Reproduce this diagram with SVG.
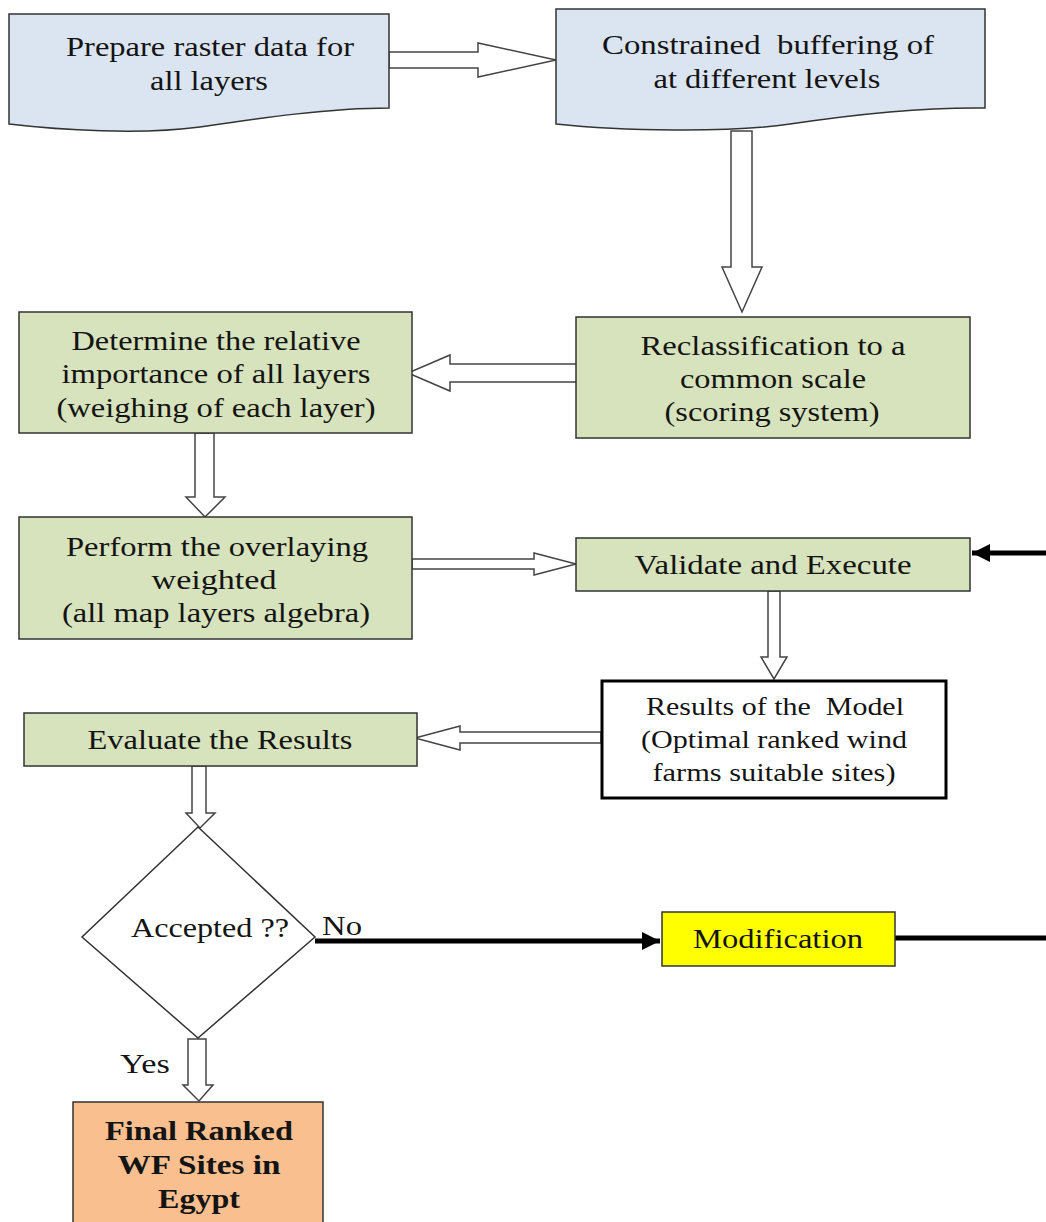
<svg xmlns="http://www.w3.org/2000/svg" width="1046" height="1222" viewBox="0 0 1046 1222">
<style>
  text { font-family: "Liberation Serif", "Times New Roman", serif; font-size: 28px; fill: #141414; text-anchor: middle; }
  .small { font-size: 26px; }
  .bold { font-weight: bold; }
  .blue { fill: #DBE5F1; stroke: #333; stroke-width: 1.5; }
  .green { fill: #D7E3BC; stroke: #333; stroke-width: 1.5; }
  .hollow { fill: #fff; stroke: #444; stroke-width: 1.5; stroke-linejoin: miter; }
  .thick { stroke: #000; stroke-width: 5; fill: none; }
</style>
<defs>
  <marker id="solid" viewBox="0 0 10 10" refX="10" refY="5" markerWidth="3.6" markerHeight="3.6" markerUnits="strokeWidth" orient="auto">
    <path d="M0,0 L10,5 L0,10 Z" fill="#000"/>
  </marker>
</defs>
<rect width="1046" height="1222" fill="#fff"/>

<g id="connectors">
  <polygon class="hollow" points="389,52 478,52 478,43 556,60 478,77 478,68 389,68"/>
  <polygon class="hollow" points="731,131 752,131 752,267 762,267 742,312 722,267 731,267"/>
  <polygon class="hollow" points="580,364 450,364 450,355 408,373 450,391 450,382 580,382"/>
  <polygon class="hollow" points="195,433 214,433 214,497 225,497 205,517 186,497 195,497"/>
  <polygon class="hollow" points="412,559 534,559 534,553 576,564 534,575 534,569 412,569"/>
  <polygon class="hollow" points="768,591 780,591 780,657 787,657 774,679 761,657 768,657"/>
  <polygon class="hollow" points="601,732 460,732 460,726 415,738 460,750 460,743 601,743"/>
  <polygon class="hollow" points="192,766 206,766 206,813 215,813 200,828 186,813 192,813"/>
  <polygon class="hollow" points="188,1039 206,1039 206,1085 213,1085 199,1101 183,1085 188,1085"/>
  <line class="thick" x1="315" y1="941" x2="660" y2="941" marker-end="url(#solid)"/>
  <line class="thick" x1="895" y1="938" x2="1046" y2="938"/>
  <line class="thick" x1="1046" y1="553" x2="972" y2="553" marker-end="url(#solid)"/>
  <text x="342" y="935" textLength="40" lengthAdjust="spacingAndGlyphs">No</text>
  <text x="145" y="1073" textLength="50" lengthAdjust="spacingAndGlyphs">Yes</text>
</g>

<g id="prepare">
  <path class="blue" d="M9,14 H389 V108 C330,108 260,118 200,127 C140,135 60,130 9,124 Z"/>
  <text x="210" y="56" textLength="288" lengthAdjust="spacingAndGlyphs">Prepare raster data for</text>
  <text x="209" y="90" textLength="118" lengthAdjust="spacingAndGlyphs">all layers</text>
</g>

<g id="buffering">
  <path class="blue" d="M556,9 H985 V108 C920,107 850,115 790,124 C730,133 620,131 556,124 Z"/>
  <text x="768" y="54" textLength="332" lengthAdjust="spacingAndGlyphs" xml:space="preserve">Constrained  buffering of</text>
  <text x="767" y="88" textLength="227" lengthAdjust="spacingAndGlyphs">at different levels</text>
</g>

<g id="reclassification">
  <rect class="green" x="576" y="317" width="394" height="121"/>
  <text x="773" y="355" textLength="265" lengthAdjust="spacingAndGlyphs">Reclassification to a</text>
  <text x="773" y="388" textLength="186" lengthAdjust="spacingAndGlyphs">common scale</text>
  <text x="772" y="421" textLength="215" lengthAdjust="spacingAndGlyphs">(scoring system)</text>
</g>

<g id="determine">
  <rect class="green" x="19" y="312" width="393" height="121"/>
  <text x="216" y="350" textLength="289" lengthAdjust="spacingAndGlyphs">Determine the relative</text>
  <text x="216" y="383" textLength="309" lengthAdjust="spacingAndGlyphs">importance of all layers</text>
  <text x="216" y="417" textLength="319" lengthAdjust="spacingAndGlyphs">(weighing of each layer)</text>
</g>

<g id="perform">
  <rect class="green" x="19" y="517" width="393" height="122"/>
  <text x="217" y="556" textLength="302" lengthAdjust="spacingAndGlyphs">Perform the overlaying</text>
  <text x="214" y="589" textLength="125" lengthAdjust="spacingAndGlyphs">weighted</text>
  <text x="216" y="622" textLength="308" lengthAdjust="spacingAndGlyphs">(all map layers algebra)</text>
</g>

<g id="validate">
  <rect class="green" x="576" y="538" width="394" height="53"/>
  <text x="773" y="574" textLength="277" lengthAdjust="spacingAndGlyphs">Validate and Execute</text>
</g>

<g id="results">
  <rect x="602" y="681" width="344" height="117" fill="#fff" stroke="#000" stroke-width="3"/>
  <text class="small" x="775" y="715" textLength="258" lengthAdjust="spacingAndGlyphs" xml:space="preserve">Results of the  Model</text>
  <text class="small" x="774" y="748" textLength="266" lengthAdjust="spacingAndGlyphs">(Optimal ranked wind</text>
  <text class="small" x="774" y="781" textLength="243" lengthAdjust="spacingAndGlyphs">farms suitable sites)</text>
</g>

<g id="evaluate">
  <rect class="green" x="24" y="713" width="393" height="53"/>
  <text x="220" y="749" textLength="265" lengthAdjust="spacingAndGlyphs">Evaluate the Results</text>
</g>

<g id="accepted">
  <polygon points="198,827 315,937 198,1038 82,937" fill="#fff" stroke="#333" stroke-width="1.5"/>
  <text x="210" y="937" textLength="158" lengthAdjust="spacingAndGlyphs">Accepted ??</text>
</g>

<g id="modification">
  <rect x="662" y="912" width="233" height="54" fill="#FFFF00" stroke="#333" stroke-width="1.5"/>
  <text x="778" y="948" textLength="170" lengthAdjust="spacingAndGlyphs">Modification</text>
</g>

<g id="final">
  <rect x="73" y="1102" width="250" height="130" fill="#F9BF8F" stroke="#333" stroke-width="1.5"/>
  <text class="bold" x="199" y="1140" textLength="188" lengthAdjust="spacingAndGlyphs">Final Ranked</text>
  <text class="bold" x="199" y="1174" textLength="163" lengthAdjust="spacingAndGlyphs">WF Sites in</text>
  <text class="bold" x="199" y="1208" textLength="82" lengthAdjust="spacingAndGlyphs">Egypt</text>
</g>
</svg>
